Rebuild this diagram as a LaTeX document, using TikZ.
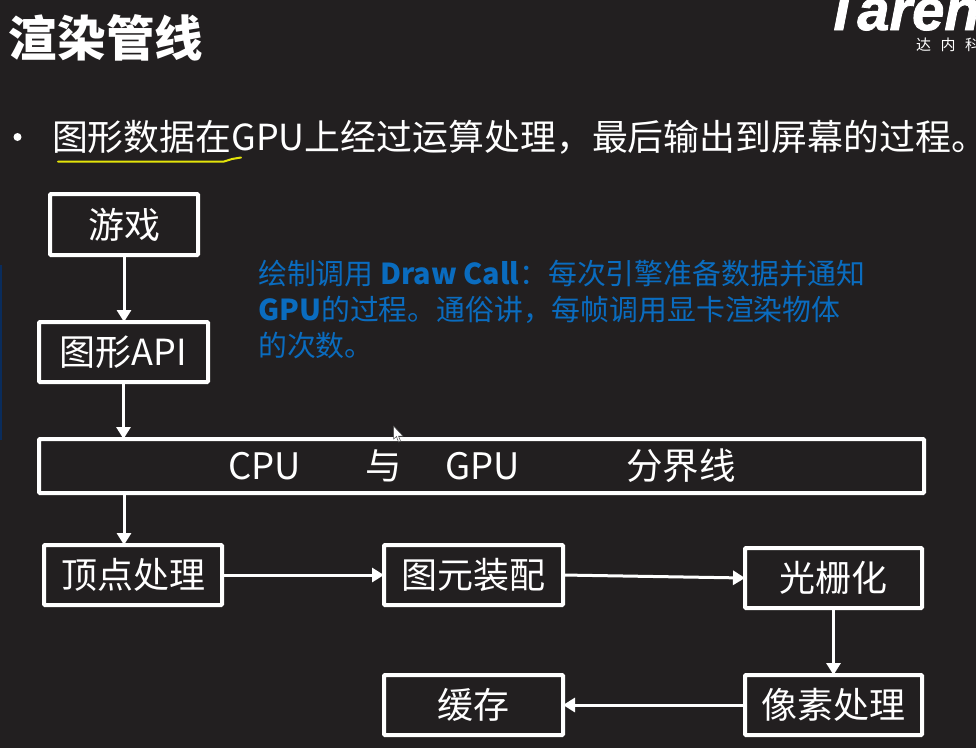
\documentclass[tikz,border=0pt]{standalone}
\usepackage{fontspec}
\usetikzlibrary{arrows.meta}
\setmainfont{Noto Sans CJK SC}
\newfontfamily\logofont{Liberation Sans}[BoldItalicFeatures={FakeBold=1.5}]
\definecolor{bgcol}{HTML}{221F20}
\definecolor{notecol}{HTML}{0A6CBF}
\definecolor{markcol}{HTML}{E4E40A}
\definecolor{edgecol}{HTML}{0A2C5C}
\tikzset{
  flowbox/.style={draw=white,line width=4pt,rounded corners=1pt,inner sep=0pt,outer sep=0pt,text=white,font=\fontsize{36}{36}\selectfont,anchor=north west},
  flowarrow/.style={draw=white,line width=3pt,-{Triangle[length=12pt,width=14pt]}},
  txt/.style={anchor=base west,inner sep=0pt,outer sep=0pt,text=white}
}
\begin{document}
\begin{tikzpicture}[x=1pt,y=-1pt]
\fill[bgcol] (0,0) rectangle (976,748);
\useasboundingbox (0,0) rectangle (976,748);
% left edge stripe
\fill[edgecol] (0,265) rectangle (2,440);
% title
\node[txt,font=\fontsize{48.5}{48.5}\selectfont\bfseries] (title) at (9,56) {渲染管线};
% logo
\node[txt,font=\logofont\fontsize{58}{58}\selectfont\bfseries\itshape] (logo) at (824,30) {Taren};
\node[txt,font=\fontsize{15}{15}\selectfont] (logosub) at (916,50) {达\hspace{9.5pt}内\hspace{9.5pt}科};
% bullet
\fill[white] (17.5,137) circle (4pt);
\node[txt,font=\fontsize{35.9}{35.9}\selectfont] (lead) at (52,150.5) {图形数据在GPU上经过运算处理，最后输出到屏幕的过程。};
\draw[markcol,line width=2pt,line cap=round] (58,161.5) -- (224,161.5) -- (232,159) -- (241,157.5);
% note
\node[anchor=north west,inner sep=0pt,text=notecol,align=left,font=\fontsize{28.85}{36}\selectfont] (note) at (258,260)
 {绘制调用 {\bfseries Draw Call}：每次引擎准备数据并通知\\{\bfseries GPU}的过程。通俗讲，每帧调用显卡渲染物体\\的次数。};
% boxes
\node[flowbox,minimum width=148pt,minimum height=61pt] (game) at (50,194) {游戏};
\node[flowbox,minimum width=169pt,minimum height=60pt] (api) at (39,322) {图形API};
\node[flowbox,minimum width=885pt,minimum height=54pt] (bar) at (39,439) {};
\node[txt,font=\fontsize{36.5}{36.5}\selectfont] (barcpu) at (228,479) {CPU};
\node[txt,font=\fontsize{36.5}{36.5}\selectfont] (baryu) at (365,479) {与};
\node[txt,font=\fontsize{36.5}{36.5}\selectfont] (bargpu) at (445,479) {GPU};
\node[txt,font=\fontsize{36.5}{36.5}\selectfont] (barline) at (626,479) {分界线};
\node[flowbox,minimum width=178pt,minimum height=60pt] (vertex) at (44,545) {顶点处理};
\node[flowbox,minimum width=179pt,minimum height=60pt] (prim) at (384,545) {图元装配};
\node[flowbox,minimum width=177pt,minimum height=60pt] (raster) at (745,548) {光栅化};
\node[flowbox,minimum width=177pt,minimum height=60pt] (pixel) at (745,675) {像素处理};
\node[flowbox,minimum width=179pt,minimum height=60pt] (cache) at (384,675) {缓存};
% connectors
\coordinate (barout) at (124,493);
\coordinate (vertexin) at (124,545);
\draw[flowarrow] (game.south) -- (game.south |- api.north);
\draw[flowarrow] (api.south) -- (api.south |- bar.north);
\draw[flowarrow] (barout) -- (vertexin);
\draw[flowarrow] (vertex.east) -- (prim.west);
\draw[flowarrow] (prim.east) -- (raster.west);
\draw[flowarrow] (raster.south) -- (pixel.north);
\draw[flowarrow] (pixel.west) -- (cache.east);
% cursor
\draw[fill=white,draw=black!70,line width=.5pt] (393.5,426) -- (393.5,439) -- (396.5,436.5) -- (398.5,442) -- (400.5,441) -- (398.5,436) -- (403,436) -- cycle;
\end{tikzpicture}
\end{document}
